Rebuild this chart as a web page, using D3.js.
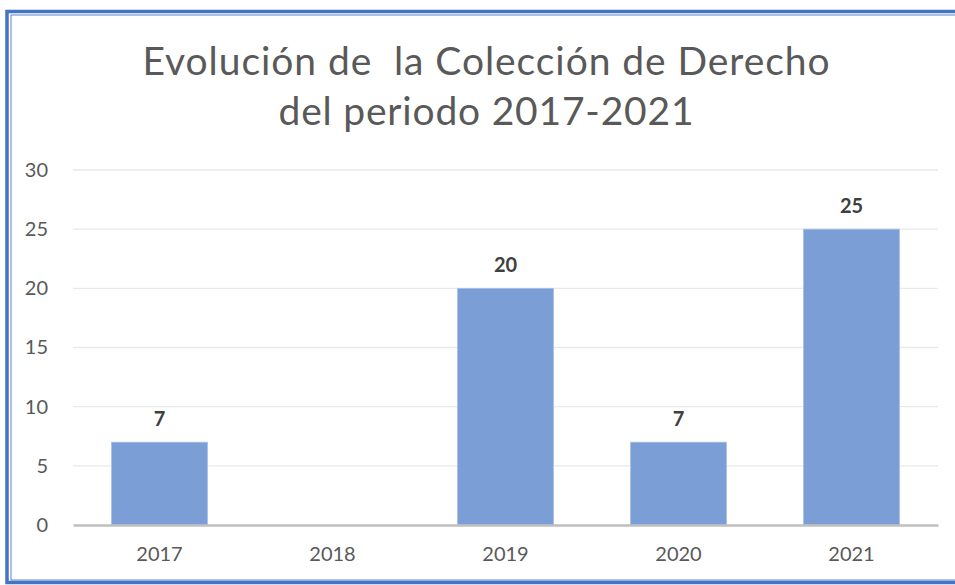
<!DOCTYPE html>
<html><head><meta charset="utf-8">
<script src="https://cdn.jsdelivr.net/npm/d3@7"></script>
<style>body{margin:0;background:#fff;}svg{display:block;}</style>
</head><body>
<svg id="c" width="955" height="585"></svg>
<script>
const categories = ["2017","2018","2019","2020","2021"];
const values = [7, null, 20, 7, 25];
const yTicks = [0,5,10,15,20,25,30];
const titleLines = ["Evolución de  la Colección de Derecho", "del periodo 2017-2021"];

const svg = d3.select("#c");
const W = 955, H = 585;
const FONT = "Lato, 'Open Sans', sans-serif";
const m = {left:73, right:17, top:170, bottom:60};
const x = d3.scaleBand().domain(categories).range([m.left, W - m.right]).paddingInner(0.445).paddingOuter(0.2225);
const y = d3.scaleLinear().domain([0,30]).range([525, 170]);

// border
svg.append("rect").attr("x",0).attr("y",0).attr("width",W).attr("height",H).attr("fill","#fff");
svg.append("rect").attr("x",7).attr("y",11.5).attr("width",W+10).attr("height",571).attr("fill","none").attr("stroke","#4472C4").attr("stroke-width",3.5);
svg.append("rect").attr("x",11).attr("y",15).attr("width",W+10).attr("height",565).attr("fill","none").attr("stroke","#5b84cc").attr("stroke-width",1);

// title
const tl = [{t:titleLines[0], y:75, w:687}, {t:titleLines[1], y:125, w:415}];
svg.selectAll("text.title").data(tl).join("text").attr("class","title")
  .attr("x",486).attr("y",d=>d.y).attr("text-anchor","middle")
  .attr("font-family",FONT).attr("font-size",39).attr("fill","#595959")
  .attr("textLength",d=>d.w).attr("lengthAdjust","spacing")
  .style("white-space","pre").text(d=>d.t);

// gridlines
svg.append("g").selectAll("line").data(yTicks.filter(t=>t>0)).join("line")
  .attr("x1",m.left).attr("x2",W-m.right).attr("y1",d=>y(d)).attr("y2",d=>y(d))
  .attr("stroke","#e9e9e9").attr("stroke-width",1.3);

// y axis labels
const ya = svg.append("g").attr("transform",`translate(${m.left},0)`)
  .call(d3.axisLeft(y).tickValues(yTicks).tickSize(0).tickPadding(25));
ya.select(".domain").remove();
ya.selectAll("text").attr("font-family",FONT).attr("font-size",20).attr("fill","#595959");

// bars
const data = categories.map((c,i)=>({c, v:values[i]})).filter(d=>d.v!=null);
svg.append("g").selectAll("rect").data(data).join("rect")
  .attr("x",d=>x(d.c)).attr("width",x.bandwidth())
  .attr("y",d=>y(d.v)).attr("height",d=>y(0)-y(d.v))
  .attr("fill","#7b9ed7").attr("stroke","#a9c0e6").attr("stroke-width",0.8);

// x axis
const xa = svg.append("g").attr("transform",`translate(0,${y(0)})`)
  .call(d3.axisBottom(x).tickSize(0).tickPadding(22));
xa.select(".domain").attr("stroke","#bfbfbf").attr("stroke-width",2.5);
xa.selectAll("text").attr("font-family",FONT).attr("font-size",20).attr("fill","#595959");

// data labels
svg.append("g").selectAll("text").data(data).join("text")
  .attr("x",d=>x(d.c)+x.bandwidth()/2).attr("y",d=>y(d.v)-16)
  .attr("text-anchor","middle").attr("font-family",FONT)
  .attr("font-weight","bold").attr("font-size",20).attr("fill","#404040").text(d=>d.v);
</script>
</body></html>
